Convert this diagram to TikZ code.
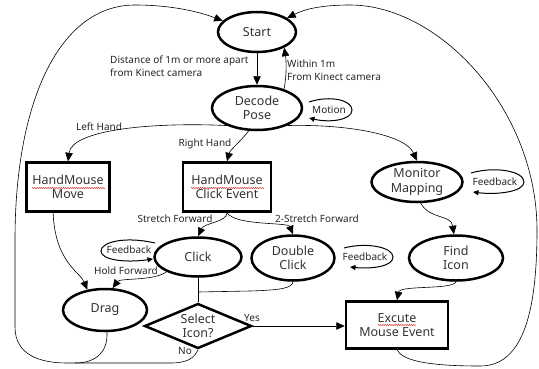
\documentclass[tikz,border=0pt]{standalone}
\usepackage{fontspec}
\setmainfont{Noto Sans}
\usetikzlibrary{shapes.geometric,arrows.meta,decorations.pathmorphing}
\begin{document}
\begin{tikzpicture}[x=1pt,y=-1pt,
  every node/.style={font=\fontsize{12.5}{14.5}\selectfont, align=center, text=black!80},
  ell/.style={ellipse, draw=black, line width=2.5pt, inner sep=0pt},
  box/.style={rectangle, draw=black, line width=2.5pt, inner sep=0pt},
  lbl/.style={font=\fontsize{10}{13}\selectfont, inner sep=0pt, text=black!85},
  conn/.style={line width=0.6pt, -{Triangle[length=8.5pt,width=7.5pt]}},
  plain/.style={line width=0.6pt},
  loopar/.style={line width=1pt, -{Triangle[length=5.5pt,width=5pt]}},
  squig/.style={red!80!black, line width=0.4pt, decorate, decoration={snake, amplitude=0.5pt, segment length=2.2pt}}
]
\useasboundingbox (0,0) rectangle (539,368);

% nodes
\node[ell, minimum width=78pt, minimum height=40pt] (start) at (257,32) {Start};
\node[ell, minimum width=90pt, minimum height=44pt] (decode) at (257,108) {Decode\\Pose};
\node[box, minimum width=83pt, minimum height=49pt] (hmove) at (68,187) {HandMouse\\Move};
\node[box, minimum width=88pt, minimum height=49pt] (hclick) at (227,187) {HandMouse\\Click Event};
\node[ell, minimum width=91pt, minimum height=40pt] (monitor) at (417,182) {Monitor\\Mapping};
\node[ell, minimum width=94pt, minimum height=45pt] (find) at (456,258) {Find\\Icon};
\node[ell, minimum width=87pt, minimum height=39pt] (click) at (198,257) {Click};
\node[ell, minimum width=83pt, minimum height=45pt] (double) at (293,258) {Double\\Click};
\node[ell, minimum width=84pt, minimum height=42pt] (drag) at (105,310) {Drag};
\node[diamond, draw=black, line width=2.5pt, inner sep=0pt, aspect=2.4,
      minimum width=107pt, minimum height=45pt] (select) at (198,326) {Select\\Icon?};
\node[box, minimum width=102pt, minimum height=47pt] (excute) at (397,325) {Excute\\Mouse Event};

% spell-check squiggles
\draw[squig] (32,188) -- (105,188);
\draw[squig] (191,188) -- (264,188);
\draw[squig] (378,325) -- (416,325);

% labels
\node[lbl, align=left, anchor=north west] (ldist) at (110,56) {Distance of 1m or more apart\\from Kinect camera};
\node[lbl, align=left, anchor=north west] (lwithin) at (287,60) {Within 1m\\From Kinect camera};
\node[lbl] (lleft) at (99,127) {Left Hand};
\node[lbl] (lright) at (205,144) {Right Hand};
\node[lbl] (lstretch) at (175,219) {Stretch Forward};
\node[lbl] (l2stretch) at (317,219) {2-Stretch Forward};
\node[lbl] (lhold) at (126,271) {Hold Forward};
\node[lbl] (lyes) at (252,318) {Yes};
\node[lbl] (lno) at (185,351) {No};
\node[lbl] (lmotion) at (329,110) {Motion};
\node[lbl] (lfb1) at (129,250) {Feedback};
\node[lbl] (lfb2) at (365,257) {Feedback};
\node[lbl] (lfb3) at (495,182) {Feedback};

% connectors
\draw[conn] (start) -- (decode);
\draw[conn] (decode.35) .. controls +(3,-14) and +(2,12) .. (start.-30);
\draw[conn] (decode.210) .. controls (150,122) and (72,130) .. (hmove.north);
\draw[conn] (decode.250) .. controls (240,142) and (230,150) .. (hclick.north);
\draw[conn] (decode.-30) .. controls (345,124) and (405,134) .. (monitor.north);
\draw[conn] (hclick.south) .. controls (227,222) and (204,223) .. (click.north);
\draw[conn] (hclick.south) .. controls (236,226) and (288,222) .. (double.north);
\draw[conn] (hmove.-120) .. controls (55,262) and (80,272) .. (drag.131);
\draw[conn] (click.205) .. controls (155,281) and (120,278) .. (drag.71);
\coordinate (jn) at (198,292);
\draw[plain] (click) -- (select);
\draw[plain] (double.south) .. controls (292,288) and (282,290) .. (250,291) -- (jn);
\draw[conn] (select.east) -- (select.east -| excute.west);
\draw[conn] (find.south) .. controls (453,290) and (400,285) .. (excute.north);
\draw[conn] (monitor.-80) .. controls (430,220) and (451,214) .. (find.95);
\draw[plain] (drag.-85) .. controls (108,352) and (96,363) .. (75,363);
\draw[conn] (select.south) .. controls (194,358) and (188,363) .. (170,363) -- (67,363)
  .. controls (40,363) and (15,355) .. (15,327) -- (15,240)
  .. controls (15,100) and (60,5) .. (135,5) .. controls (172,5) and (200,12) .. (start.162);
\draw[conn] (excute.south) .. controls (402,360) and (425,366) .. (480,366)
  .. controls (520,366) and (537,320) .. (537,230)
  .. controls (537,110) and (440,5) .. (350,5) .. controls (322,5) and (305,9) .. (start.25);

% self loops
\draw[loopar] (309,102) .. controls (330,95) and (352,100) .. (352,110) .. controls (352,120) and (330,123) .. (309,118);
\draw[loopar] (155,243) .. controls (125,236) and (101,242) .. (101,251) .. controls (101,260) and (125,263) .. (153,259);
\draw[loopar] (344,248) .. controls (366,242) and (393,247) .. (393,257) .. controls (393,267) and (370,269) .. (350,267);
\draw[loopar] (471,173) .. controls (495,166) and (524,171) .. (524,182) .. controls (524,192) and (496,195) .. (473,192);
\end{tikzpicture}
\end{document}
